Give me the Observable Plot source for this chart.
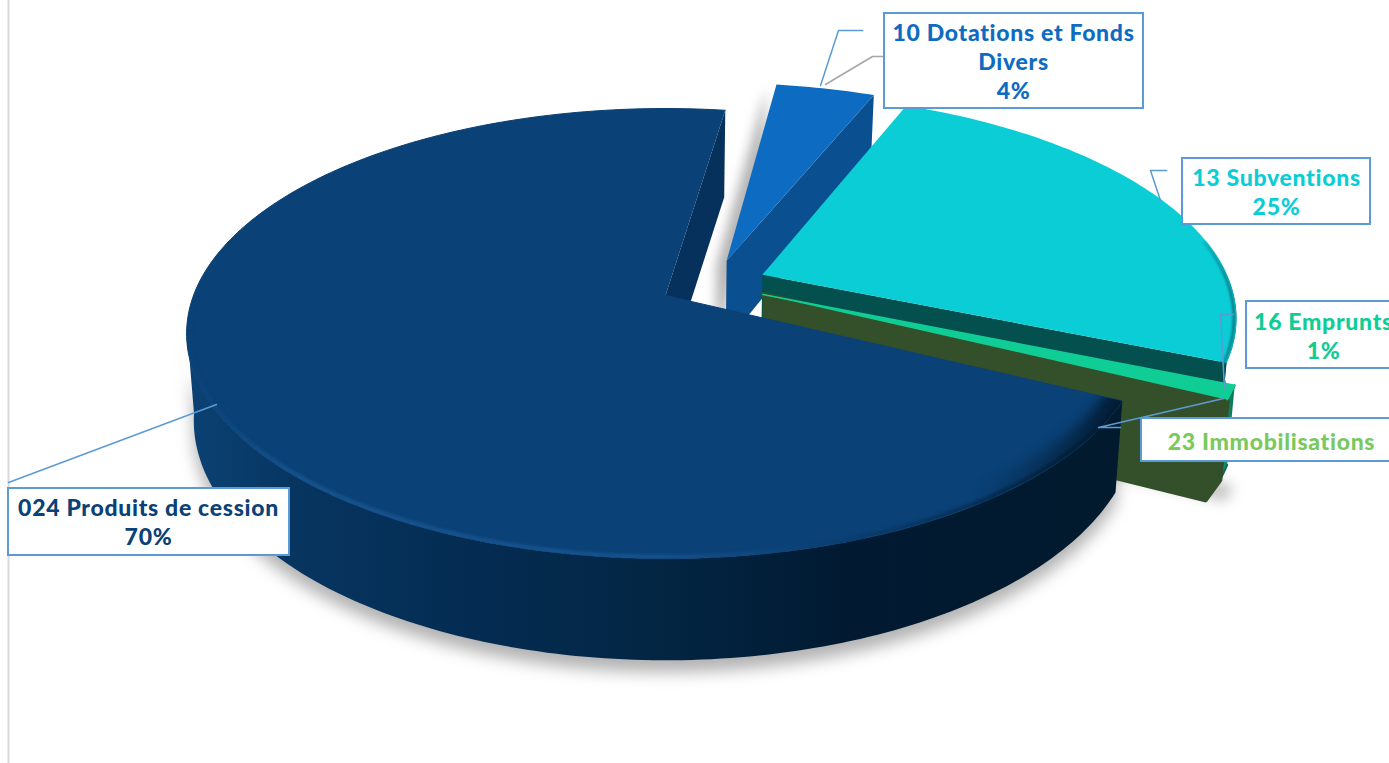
<!DOCTYPE html>
<html>
<head>
<meta charset="utf-8">
<style>
  html, body { margin: 0; padding: 0; background: #fff; overflow: hidden; }
  svg { display: block; }
</style>
<script src="https://cdn.jsdelivr.net/npm/d3@7"></script>
<script src="https://cdn.jsdelivr.net/npm/@observablehq/plot@0.6"></script>
</head>
<body>
<script>
// Budget shares by account, clockwise from the first slice.
const categories = ["10 Dotations et Fonds\nDivers", "13 Subventions", "16 Emprunts", "23 Immobilisations", "024 Produits de cession"];
const shares = [4, 25, 1, 0, 70];
const sliceColors = ["#0d6cc2", "#0bcdd6", "#10cd95", "#7ac95f", "#0a4176"];
const faceColors = ["#0a4f8f", "#03504f", "#33502a", "#33502a", "#06315c"];

// Tilted-disc camera: disc units to pixels with a little perspective.
const camera = {cx: 665, cy: 295, a: 472, b: 218.6, k: 0.169, depth: 84.5, taper: 0.015};
const firstAngle = 8.5;
const explode = 0.115;
const hub = [0.102, -0.053];

function project(u, v, z = 0) {
  const w = 1 - camera.k * v;
  return {
    x: camera.cx + (camera.a * u / w) * (1 - camera.taper * z),
    y: camera.cy + (camera.b * v + camera.depth * z) / w
  };
}
const rad = (d) => d * Math.PI / 180;
const unit = (d) => [Math.sin(rad(d)), -Math.cos(rad(d))];

// Angular extent and exploded centre of each slice, derived from the shares.
let running = firstAngle;
const slices = shares.map((share, i) => {
  const start = running;
  const end = start + share * 3.6;
  running = end;
  const [du, dv] = unit((start + end) / 2);
  return {i, start, end, u0: hub[0] + explode * du, v0: hub[1] + explode * dv};
});

function rim(s, from, to, z = 0, r = 1) {
  const n = Math.max(2, Math.ceil(Math.abs(to - from)));
  return d3.range(n + 1).map((j) => {
    const [du, dv] = unit(from + (to - from) * j / n);
    return project(s.u0 + r * du, s.v0 + r * dv, z);
  });
}
const edgePoint = (s, angle, z = 0, r = 1) => {
  const [du, dv] = unit(angle);
  return project(s.u0 + r * du, s.v0 + r * dv, z);
};
const apex = (s, z = 0) => project(s.u0, s.v0, z);
const topFace = (s) => [apex(s), ...rim(s, s.start, s.end)];
const outerWall = (s, from = s.start, to = s.end, zBase = 1) => [...rim(s, from, to), ...rim(s, to, from, zBase)];
const cutFace = (s, angle, zRim = 1) => [apex(s), edgePoint(s, angle), edgePoint(s, angle, zRim), apex(s, 1)];
const footprint = (s) => [apex(s, 1), ...rim(s, s.start, s.end, 1)];

const [dotations, subventions, emprunts, immobilisations, produits] = slices;

// The thin slice's cut face runs a little deeper, with a chamfered lower corner.
const chamferedFace = (s, angle) => [
  apex(s), edgePoint(s, angle), edgePoint(s, angle, 0.88), edgePoint(s, angle, 1.13, 0.975), apex(s, 1.13)
];

const solid = (points, fill, extra = {}) =>
  Plot.line(points, {x: "x", y: "y", fill, stroke: "none", ...extra});

// Keeps a rim highlight inside the top face of the large slice.
const clippedToNavyTop = (index, scales, values, dimensions, context, next) => {
  const g = next(index, scales, values, dimensions, context);
  g.setAttribute("clip-path", "url(#navyTop)");
  return g;
};

// Callout boxes and their text.
const boxes = [
  {x1: 884, x2: 1143, y1: 13, y2: 108, tx: 1013, ty: 60, i: 0},
  {x1: 1182, x2: 1370, y1: 158, y2: 224, tx: 1276, ty: 191, i: 1},
  {x1: 1246, x2: 1400, y1: 301, y2: 368, tx: 1323, ty: 335, i: 2},
  {x1: 1141, x2: 1400, y1: 418, y2: 461, tx: 1271, ty: 440, i: 3},
  {x1: 8, x2: 289, y1: 488, y2: 555, tx: 148, ty: 521, i: 4}
];
const boxText = (b) => {
  const share = shares[b.i];
  return share > 0 ? `${categories[b.i]}\n${share}%` : categories[b.i];
};

// Leader lines from slices to callouts.
const leaders = [
  {color: "#5b9bd5", pts: [[820, 85], [838, 30], [862, 30]]},
  {color: "#a6a6a6", pts: [[825, 84], [872, 56], [884, 56]]},
  {color: "#5b9bd5", pts: [[1166, 170], [1150, 170], [1160, 200]]},
  {color: "#5b9bd5", pts: [[1233, 314], [1220, 314], [1224, 389]]},
  {color: "#5b9bd5", pts: [[1223, 398], [1098, 427], [1120, 427]]},
  {color: "#5b9bd5", pts: [[216, 404], [8, 482]]}
];

const chart = Plot.plot({
  width: 1389,
  height: 763,
  margin: 0,
  x: {domain: [0, 1389], range: [0, 1389], axis: null},
  y: {domain: [0, 763], range: [0, 763], axis: null},
  style: {background: "#fff", letterSpacing: "0.7px"},
  marks: [
    Plot.ruleX([8], {stroke: "#d9d9d9", strokeWidth: 2}),

    // Soft ground shadow
    solid(outerWall(produits, produits.start, 262), "#000", {dy: 12, fillOpacity: 0.3, imageFilter: "blur(8px)"}),
    solid(footprint(emprunts), "#000", {dx: 7, dy: 10, fillOpacity: 0.26, imageFilter: "blur(7px)"}),
    solid(cutFace(dotations, dotations.start), "#000", {dx: -10, dy: 4, fillOpacity: 0.3, imageFilter: "blur(6px)"}),

    // 10 Dotations
    solid(cutFace(dotations, dotations.end), faceColors[0]),
    solid(topFace(dotations), sliceColors[0]),

    // 13 Subventions
    solid(outerWall(subventions, subventions.end - 32), "url(#cyanWall)"),
    solid(cutFace(subventions, subventions.end), faceColors[1]),
    solid(topFace(subventions), sliceColors[1]),
    Plot.line(rim(subventions, subventions.end - 32, subventions.end, 0, 0.995), {
      x: "x", y: "y", stroke: "url(#cyanEdge)", strokeWidth: 3, imageFilter: "blur(1px)"
    }),

    // 16 Emprunts, with the zero-width 23 Immobilisations face beneath it
    solid(outerWall(emprunts, emprunts.start, emprunts.end, 0.88), "url(#greenWall)", {stroke: "#0a6b52", strokeWidth: 2, strokeLinejoin: "round"}),
    solid(chamferedFace(emprunts, emprunts.end), faceColors[2], {stroke: faceColors[2], strokeWidth: 5, strokeLinejoin: "round"}),
    solid(topFace(emprunts), sliceColors[2], {stroke: sliceColors[2], strokeWidth: 1.5, strokeLinejoin: "round"}),

    // 024 Produits de cession
    solid(cutFace(produits, produits.end, 1.2), faceColors[4]),
    solid(outerWall(produits, produits.start, 262), "url(#navyWall)"),
    solid(topFace(produits), sliceColors[4], {stroke: sliceColors[4], strokeWidth: 1, strokeLinejoin: "round"}),
    Plot.line(rim(produits, produits.start, 272, 0, 0.996), {
      x: "x", y: "y", stroke: "url(#navyEdge)", strokeWidth: 5, strokeOpacity: 0.85, imageFilter: "blur(1.5px)", render: clippedToNavyTop
    }),
    Plot.line(rim(produits, produits.start, produits.start + 42, 0, 0.985), {
      x: "x", y: "y", stroke: "url(#navyShade)", strokeWidth: 22, imageFilter: "blur(6px)", render: clippedToNavyTop
    }),

    // Leaders
    ...leaders.map((l) =>
      Plot.line(l.pts, {x: (d) => d[0], y: (d) => d[1], stroke: l.color, strokeWidth: 1.5, curve: "linear"})
    ),

    // Callouts
    Plot.rect(boxes, {x1: "x1", x2: "x2", y1: "y1", y2: "y2", fill: "#fff", stroke: "#5b9bd5", strokeWidth: 2}),
    Plot.text(boxes, {
      x: "tx",
      y: "ty",
      text: boxText,
      fill: (b) => sliceColors[b.i],
      fontFamily: "Lato",
      fontWeight: 900,
      fontSize: 23,
      lineHeight: 1.27,
      textAnchor: "middle"
    })
  ],
  color: {type: "identity"}
});

const navyTopPath = d3.line((d) => d.x, (d) => d.y)(topFace(produits)) + "Z";

// Shared gradients for the walls and rim bevels.
chart.insertAdjacentHTML("afterbegin", `
  <defs>
    <clipPath id="navyTop"><path d="${navyTopPath}"/></clipPath>
    <linearGradient id="navyWall" gradientUnits="userSpaceOnUse" x1="186" y1="0" x2="1120" y2="0">
      <stop offset="0" stop-color="#0b4274"/>
      <stop offset="0.12" stop-color="#073560"/>
      <stop offset="0.3" stop-color="#042c52"/>
      <stop offset="0.5" stop-color="#032644"/>
      <stop offset="0.7" stop-color="#011a32"/>
      <stop offset="1" stop-color="#021a2e"/>
    </linearGradient>
    <linearGradient id="navyEdge" gradientUnits="userSpaceOnUse" x1="186" y1="0" x2="1120" y2="0">
      <stop offset="0" stop-color="#0a4176"/>
      <stop offset="0.12" stop-color="#175693"/>
      <stop offset="0.5" stop-color="#175693"/>
      <stop offset="0.72" stop-color="#0a3a6b"/>
      <stop offset="1" stop-color="#021a30"/>
    </linearGradient>
    <linearGradient id="navyShade" gradientUnits="userSpaceOnUse" x1="980" y1="0" x2="1118" y2="0">
      <stop offset="0" stop-color="#021a30" stop-opacity="0"/>
      <stop offset="1" stop-color="#021a30" stop-opacity="0.95"/>
    </linearGradient>
    <linearGradient id="cyanWall" gradientUnits="userSpaceOnUse" x1="1200" y1="0" x2="1235" y2="0">
      <stop offset="0" stop-color="#0a8a90"/>
      <stop offset="1" stop-color="#064f55"/>
    </linearGradient>
    <linearGradient id="cyanEdge" gradientUnits="userSpaceOnUse" x1="1190" y1="0" x2="1232" y2="0">
      <stop offset="0" stop-color="#0bcdd6"/>
      <stop offset="1" stop-color="#0a7d86"/>
    </linearGradient>
    <linearGradient id="greenWall" gradientUnits="userSpaceOnUse" x1="1215" y1="0" x2="1237" y2="0">
      <stop offset="0" stop-color="#10a97b"/>
      <stop offset="1" stop-color="#0a6b52"/>
    </linearGradient>
  </defs>`);

document.body.appendChild(chart);
</script>
</body>
</html>
